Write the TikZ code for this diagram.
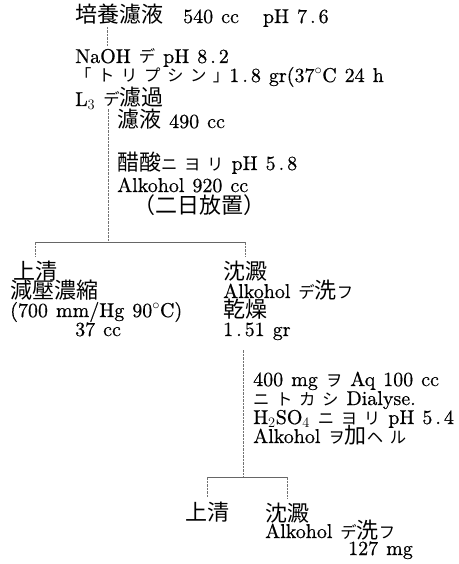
\documentclass[tikz,border=0pt]{standalone}
\usepackage{fontspec}
\setmainfont{lmroman10}[Extension=.otf, UprightFont=*-regular, BoldFont=*-bold,
  ItalicFont=*-italic, UprightFeatures={FakeBold=0.6}]
\newfontfamily\jpfont[Scale=1.1]{Noto Sans CJK JP}
\newfontfamily\knfont[Scale=0.82,LetterSpace=40]{Noto Sans CJK JP}
\newcommand\jp[1]{{\jpfont #1}}
\newcommand\kn[1]{{\knfont #1}}
\newcommand\dec[2]{#1\hspace{3pt}.\hspace{3pt}#2}
\newcommand\txtfont{\fontsize{20}{19}\selectfont\lineskiplimit=-40pt\spaceskip 8pt\relax}
\usetikzlibrary{positioning}

\begin{document}
\begin{tikzpicture}[
  x=1pt, y=-1pt,
  font=\txtfont,
  txt/.style={inner sep=0pt, anchor=base west, align=left},
  tie/.style={draw=black!55, line width=0.6pt, dash pattern=on 2.5pt off 1pt},
  bar/.style={draw=black!60, line width=0.7pt}
]
  \useasboundingbox (0,0) rectangle (458,564);

  % culture filtrate and first treatment (multi-line nodes sit on their last line)
  \node[txt] (broth) at (75,23) {\jp{培養濾液}\hspace{20pt}540 cc\hspace{24pt}pH \dec{7}{6}};
  \node[txt] (naoh) at (75,106) {NaOH \kn{デ} pH \dec{8}{2}\\
    \kn{「トリプシン」}\dec{1}{8} gr(37$^\circ$C 24 h\\[5pt]
    L$_3$ \kn{デ}\jp{濾過}};
  \node[txt] (filtrate) at (117,128) {\jp{濾液} 490 cc};
  \node[txt] (acid) at (117,213) {\jp{醋酸}\kn{ニヨリ} pH \dec{5}{8}\\[3pt]
    Alkohol 920 cc\\[2pt]
    \hspace{16pt}\jp{（二日放置）}};

  % first split
  \node[txt] (sup1) at (13,279) {\jp{上清}};
  \node[txt] (conc) at (10,336) {\jp{減壓濃縮}\\
    (700 mm/Hg 90$^\circ$C)\\
    \hspace{65pt}37 cc};
  \node[txt] (ppt1) at (223,279) {\jp{沈澱}};
  \node[txt] (wash1) at (223,336) {Alkohol \kn{デ}\jp{洗}\kn{フ}\\
    \jp{乾燥}\\
    \dec{1}{51} gr};

  % dialysis
  \node[txt] (dial) at (253,443) {400 mg \kn{ヲ} Aq 100 cc\\
    \kn{ニトカシ} Dialyse.\\
    H$_2$SO$_4$ \kn{ニヨリ} pH \dec{5}{4}\\
    Alkohol \kn{ヲ}\jp{加}\kn{ヘル}};

  % second split
  \node[txt] (sup2) at (185,520) {\jp{上清}};
  \node[txt] (ppt2) at (265,521) {\jp{沈澱}};
  \node[txt] (wash2) at (265,555) {Alkohol \kn{デ}\jp{洗}\kn{フ}\\[-2pt]
    \hspace{83pt}127 mg};

  \coordinate (s1) at (107,27);
  \coordinate (fork1) at (108,242);
  \coordinate (fork2) at (243,477);

  \draw[tie] (s1) -- ([yshift=3pt]s1 |- naoh.north);
  \draw[tie] (fork1 |- naoh.south) -- (fork1);
  \draw[bar] (sup1.north |- fork1) -- (ppt1.north |- fork1);
  \draw[tie] (sup1.north |- fork1) -- ([yshift=3pt]sup1.north);
  \draw[tie] (ppt1.north |- fork1) -- ([yshift=3pt]ppt1.north);

  \draw[tie] ([yshift=-10pt]fork2 |- wash1.south) -- (fork2);
  \draw[bar] (sup2.north |- fork2) -- (ppt2.north |- fork2);
  \draw[tie] (sup2.north |- fork2) -- ([yshift=4pt]sup2.north);
  \draw[tie] (ppt2.north |- fork2) -- ([yshift=4pt]ppt2.north);
\end{tikzpicture}
\end{document}
